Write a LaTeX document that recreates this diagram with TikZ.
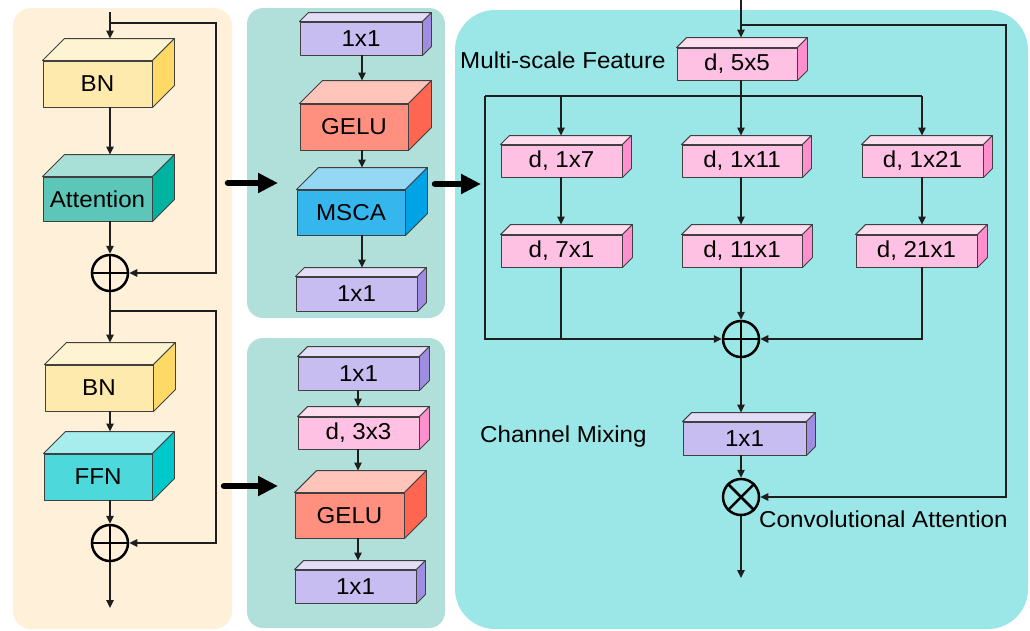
\documentclass[tikz,border=0pt]{standalone}
\usepackage{fontspec}
\setmainfont{Liberation Sans}
\usetikzlibrary{arrows.meta,calc}
\definecolor{panelL}{HTML}{FFF1D9}
\definecolor{panelM}{HTML}{B1E0DA}
\definecolor{panelR}{HTML}{9BE7E8}
\definecolor{bnF}{HTML}{FFEAAE}\definecolor{bnT}{HTML}{FFF4D2}\definecolor{bnS}{HTML}{FFD966}
\definecolor{atF}{HTML}{5CC6B8}\definecolor{atT}{HTML}{A8E0D8}\definecolor{atS}{HTML}{00B3A0}
\definecolor{ffF}{HTML}{4DD9DC}\definecolor{ffT}{HTML}{A8EDEE}\definecolor{ffS}{HTML}{00C9CC}
\definecolor{geF}{HTML}{FF9080}\definecolor{geT}{HTML}{FFC4BA}\definecolor{geS}{HTML}{FF6651}
\definecolor{msF}{HTML}{35B6EC}\definecolor{msT}{HTML}{95D8F3}\definecolor{msS}{HTML}{00A3E6}
\definecolor{puF}{HTML}{C8BDF0}\definecolor{puT}{HTML}{E3DDF8}\definecolor{puS}{HTML}{A08CE0}
\definecolor{piF}{HTML}{FFC1E3}\definecolor{piT}{HTML}{FFDDEF}\definecolor{piS}{HTML}{FF8FCD}
\definecolor{ink}{HTML}{1E1E1E}
\newcommand\stretchtxt[1]{\scalebox{1.05}[1]{#1}}
\tikzset{
  boxline/.style={draw=ink!85, line width=0.9pt, line join=round},
  boxf/.style={boxline, rectangle, inner sep=0pt, font=\fontsize{23}{27}\selectfont},
  lbl/.style={font=\fontsize{23}{27}\selectfont, inner sep=0pt, anchor=west},
  conn/.style={draw=ink, line width=1.1pt},
  arr/.style={conn, -{Triangle[length=8pt,width=7.5pt]}},
  bigarr/.style={draw=black, line width=6.5pt, line cap=round, -{Triangle[length=20pt,width=19pt]}},
  opc/.style={circle, draw=black, line width=2.5pt, minimum size=36pt, inner sep=0pt},
  opline/.style={draw=black, line width=2.5pt},
}
\newcommand\cuboid[8]{%
  \node[boxf, fill=#7F, minimum width=#4pt, minimum height=#5pt] (#1) at (#2,#3) {\stretchtxt{#8}};
  \filldraw[boxline, fill=#7T] (#1.north west) -- ([shift={(#6pt,#6pt)}]#1.north west) -- ([shift={(#6pt,#6pt)}]#1.north east) -- (#1.north east) -- cycle;
  \filldraw[boxline, fill=#7S] (#1.north east) -- ([shift={(#6pt,#6pt)}]#1.north east) -- ([shift={(#6pt,#6pt)}]#1.south east) -- (#1.south east) -- cycle;
  \coordinate (#1t) at ([yshift=#6pt]#1.north);
}
\begin{document}
\begin{tikzpicture}[x=1pt,y=-1pt]
\useasboundingbox (0,0) rectangle (1030,630);
% panels
\fill[panelL, rounded corners=18pt] (13,8) rectangle (232,629);
\fill[panelM, rounded corners=16pt] (247,8) rectangle (445,318);
\fill[panelM, rounded corners=16pt] (247,338) rectangle (445,628);
\fill[panelR, rounded corners=40pt] (455,10) rectangle (1028,629);

% columns
\coordinate (cl) at (110,0);
\coordinate (cmid) at (362,0);
\coordinate (cbot) at (358,0);
\coordinate (ca) at (561,0);
\coordinate (cb) at (741,0);
\coordinate (cc) at (922,0);

% left panel
\cuboid{bn1}{97.5}{84}{109}{46}{22}{bn}{BN}
\cuboid{att}{97.5}{199}{109}{44}{22}{at}{Attention}
\cuboid{bn2}{99}{388}{108}{46}{22}{bn}{BN}
\cuboid{ffn}{98}{477}{108}{46}{22}{ff}{FFN}
\node[opc] (p1) at (110,273) {};
\draw[opline] (p1.north) -- (p1.south) (p1.west) -- (p1.east);
\node[opc] (p2) at (110,543) {};
\draw[opline] (p2.north) -- (p2.south) (p2.west) -- (p2.east);

\coordinate (inL) at (110,12);
\coordinate (s1) at (110,23); \coordinate (s1r) at (216,23);
\coordinate (s2) at (110,311); \coordinate (s2r) at (216,311);
\coordinate (outL) at (110,608);
\draw[arr] (inL) -- (bn1t -| cl);
\draw[arr] (s1) -- (s1r) |- (p1.east);
\draw[arr] (bn1.south -| cl) -- (attt -| cl);
\draw[arr] (att.south -| cl) -- (p1.north);
\draw[arr] (p1.south) -- (bn2t -| cl);
\draw[arr] (s2) -- (s2r) |- (p2.east);
\draw[arr] (bn2.south -| cl) -- (ffnt -| cl);
\draw[arr] (ffn.south -| cl) -- (p2.north);
\draw[arr] (p2.south) -- (outL);

% middle top panel
\cuboid{m1}{361}{38.5}{122}{33}{9}{pu}{1x1}
\cuboid{gelu1}{354}{127}{108}{46}{23}{ge}{GELU}
\cuboid{msca}{351}{212.5}{108}{45}{22}{ms}{MSCA}
\cuboid{m4}{356.5}{294}{121}{34}{9}{pu}{1x1}
\draw[arr] (m1.south -| cmid) -- (gelu1t -| cmid);
\draw[arr] (gelu1.south -| cmid) -- (mscat -| cmid);
\draw[arr] (msca.south -| cmid) -- (m4t -| cmid);

% middle bottom panel
\cuboid{b1}{358.5}{373.5}{121}{33}{10}{pu}{1x1}
\cuboid{b2}{358.5}{433}{121}{32}{10}{pi}{d, 3x3}
\cuboid{gelu2}{349.5}{515.5}{109}{45}{22}{ge}{GELU}
\cuboid{b4}{355.5}{586.5}{121}{33}{9}{pu}{1x1}
\draw[arr] (b1.south -| cbot) -- (b2t -| cbot);
\draw[arr] (b2.south -| cbot) -- (gelu2t -| cbot);
\draw[arr] (gelu2.south -| cbot) -- (b4t -| cbot);

% thick arrows between panels
\coordinate (t1a) at (228,183); \coordinate (t1b) at (278,183);
\coordinate (t2a) at (224,486); \coordinate (t2b) at (278,486);
\coordinate (t3a) at (435,184); \coordinate (t3b) at (481,184);
\draw[bigarr] (t1a) -- (t1b);
\draw[bigarr] (t2a) -- (t2b);
\draw[bigarr] (t3a) -- (t3b);

% right panel
\cuboid{r0}{737}{64}{120}{32}{10}{pi}{d, 5x5}
\cuboid{r1a}{561.5}{161}{121}{32}{9}{pi}{d, 1x7}
\cuboid{r1b}{742}{161}{120}{32}{9}{pi}{d, 1x11}
\cuboid{r1c}{922.5}{161}{121}{32}{9}{pi}{d, 1x21}
\cuboid{r2a}{561.5}{251}{121}{32}{10}{pi}{d, 7x1}
\cuboid{r2b}{742}{251}{120}{32}{10}{pi}{d, 11x1}
\cuboid{r2c}{916.5}{251}{121}{32}{10}{pi}{d, 21x1}
\cuboid{cm}{744.5}{438.5}{123}{33}{9}{pu}{1x1}
\node[opc] (pr) at (741,339) {};
\draw[opline] (pr.north) -- (pr.south) (pr.west) -- (pr.east);
\node[opc] (ox) at (741,497) {};
\draw[opline] (ox.north west) -- (ox.south east) (ox.north east) -- (ox.south west);

\node[lbl] (lms) at (460,60) {\stretchtxt{Multi-scale Feature}};
\node[lbl] (lcm) at (480,437) {\stretchtxt{Channel Mixing}};
\node[lbl] (lca) at (759,519) {\stretchtxt{Convolutional Attention}};

\coordinate (inR) at (741,0);
\coordinate (s3) at (741,25); \coordinate (s3r) at (1006,25);
\coordinate (spl) at (485,96); \coordinate (spr) at (922,96);
\coordinate (outR) at (741,578);
\draw[arr] (inR) -- (r0t -| cb);
\draw[arr] (s3) -- (s3r) |- (ox.east);
\draw[arr] (r0.south -| cb) -- (r1bt -| cb);
\draw[conn] (spl) -- (spr);
\draw[arr] (spl -| ca) -- (r1at -| ca);
\draw[arr] (spr) -- (r1ct -| cc);
\draw[arr] (r1a.south -| ca) -- (r2at -| ca);
\draw[arr] (r1b.south -| cb) -- (r2bt -| cb);
\draw[arr] (r1c.south -| cc) -- (r2ct -| cc);
\draw[arr] (spl) |- (pr.west);
\draw[conn] (r2a.south -| ca) -- (ca |- pr.west);
\draw[arr] (r2b.south -| cb) -- (pr.north);
\draw[arr] (r2c.south -| cc) |- (pr.east);
\draw[arr] (pr.south) -- (cmt -| cb);
\draw[arr] (cm.south -| cb) -- (ox.north);
\draw[arr] (ox.south) -- (outR);
\end{tikzpicture}
\end{document}
